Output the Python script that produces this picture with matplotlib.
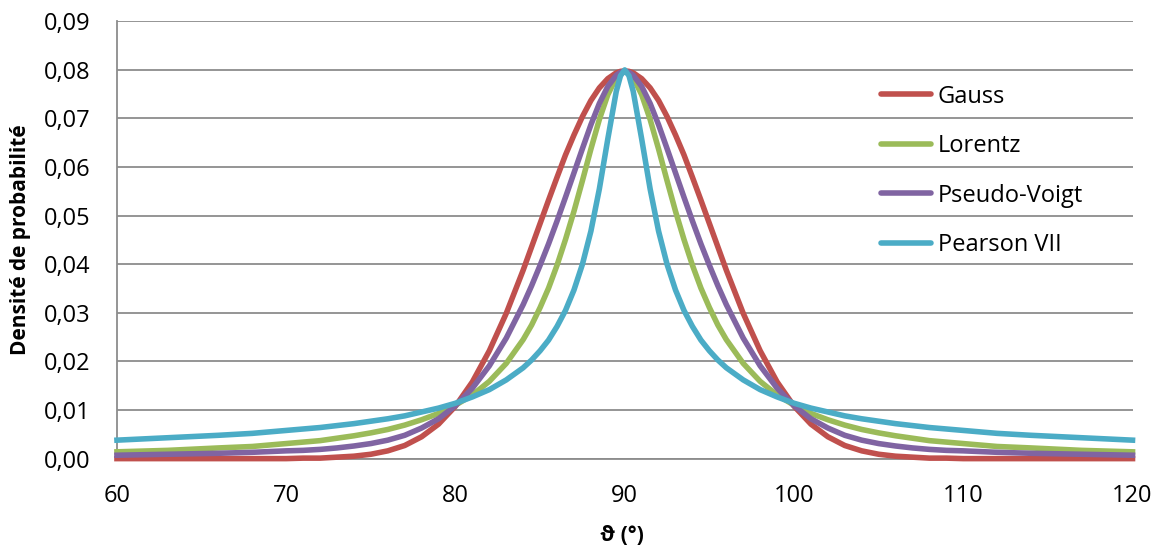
import matplotlib
matplotlib.use('Agg')
import matplotlib.pyplot as plt
from matplotlib.ticker import FuncFormatter, MultipleLocator

# theta positions (deg) and curve values
theta = [60, 63, 66, 68, 70, 71, 72, 73, 74, 75, 76, 77, 78, 79,
         80, 81, 82, 83, 84, 84.5, 85, 85.5, 86, 86.5, 87, 87.5, 88, 88.5,
         89, 89.5, 89.75, 90, 90.25, 90.5, 91, 91.5, 92, 92.5, 93, 93.5,
         94, 94.5, 95, 95.5, 96, 97, 98, 99, 100,
         101, 102, 103, 104, 105, 106, 107, 108, 109, 110, 112, 114, 117, 120]

gauss = [0.0000, 0.0000, 0.0000, 0.0000, 0.0000, 0.0001, 0.0001, 0.0003, 0.0005, 0.0009,
         0.0016, 0.0027, 0.0045, 0.0071,
         0.0108, 0.0158, 0.0222, 0.0299, 0.0388, 0.0436, 0.0484, 0.0532, 0.0579, 0.0625,
         0.0666, 0.0704, 0.0737, 0.0763, 0.0782, 0.0794, 0.0797, 0.0798,
         0.0797, 0.0794, 0.0782, 0.0763, 0.0737, 0.0704, 0.0666, 0.0625, 0.0579, 0.0532,
         0.0484, 0.0436, 0.0388, 0.0299, 0.0222, 0.0158, 0.0108,
         0.0071, 0.0045, 0.0027, 0.0016, 0.0009, 0.0005, 0.0003, 0.0001, 0.0001, 0.0000,
         0.0000, 0.0000, 0.0000, 0.0000]

lorentz = [0.0014, 0.0017, 0.0022, 0.0025, 0.0031, 0.0034, 0.0037, 0.0042, 0.0047, 0.0053,
           0.0060, 0.0069, 0.0080, 0.0093,
           0.0110, 0.0131, 0.0159, 0.0196, 0.0245, 0.0275, 0.0311, 0.0351, 0.0398, 0.0451,
           0.0509, 0.0572, 0.0637, 0.0698, 0.0749, 0.0784, 0.0793, 0.0796,
           0.0793, 0.0784, 0.0749, 0.0698, 0.0637, 0.0572, 0.0509, 0.0451, 0.0398, 0.0351,
           0.0311, 0.0275, 0.0245, 0.0196, 0.0159, 0.0131, 0.0110,
           0.0093, 0.0080, 0.0069, 0.0060, 0.0053, 0.0047, 0.0042, 0.0037, 0.0034, 0.0031,
           0.0025, 0.0022, 0.0017, 0.0014]

pseudo_voigt = [0.0007, 0.0009, 0.0011, 0.0013, 0.0016, 0.0017, 0.0019, 0.0022, 0.0026, 0.0031,
                0.0038, 0.0048, 0.0063, 0.0082,
                0.0109, 0.0145, 0.0191, 0.0248, 0.0317, 0.0356, 0.0398, 0.0442, 0.0489, 0.0538,
                0.0588, 0.0638, 0.0687, 0.0731, 0.0766, 0.0789, 0.0795, 0.0797,
                0.0795, 0.0789, 0.0766, 0.0731, 0.0687, 0.0638, 0.0588, 0.0538, 0.0489, 0.0442,
                0.0398, 0.0356, 0.0317, 0.0248, 0.0191, 0.0145, 0.0109,
                0.0082, 0.0063, 0.0048, 0.0038, 0.0031, 0.0026, 0.0022, 0.0019, 0.0017, 0.0016,
                0.0013, 0.0011, 0.0009, 0.0007]

pearson7 = [0.0038, 0.0043, 0.0048, 0.0052, 0.0058, 0.0061, 0.0064, 0.0068, 0.0072, 0.0077,
            0.0082, 0.0088, 0.0096, 0.0104,
            0.0114, 0.0127, 0.0142, 0.0162, 0.0187, 0.0203, 0.0222, 0.0244, 0.0272, 0.0305,
            0.0347, 0.0400, 0.0468, 0.0555, 0.0658, 0.0756, 0.0788, 0.0800,
            0.0788, 0.0756, 0.0658, 0.0555, 0.0468, 0.0400, 0.0347, 0.0305, 0.0272, 0.0244,
            0.0222, 0.0203, 0.0187, 0.0162, 0.0142, 0.0127, 0.0114,
            0.0104, 0.0096, 0.0088, 0.0082, 0.0077, 0.0072, 0.0068, 0.0064, 0.0061, 0.0058,
            0.0052, 0.0048, 0.0043, 0.0038]

series = [('Gauss', gauss, '#C0504D'),
          ('Lorentz', lorentz, '#9BBB59'),
          ('Pseudo-Voigt', pseudo_voigt, '#8064A2'),
          ('Pearson VII', pearson7, '#4BACC6')]

plt.rcParams['font.family'] = ['Open Sans', 'DejaVu Sans']
plt.rcParams['font.size'] = 17

fig = plt.figure(figsize=(11.58, 5.48), dpi=100)
ax = fig.add_axes([0.101, 0.1631, 0.877, 0.798])

for name, vals, col in series:
    ax.plot(theta, vals, color=col, lw=4, label=name, clip_on=False,
            solid_joinstyle='round', zorder=3)

ax.set_xlim(60, 120)
ax.set_ylim(0, 0.09)
ax.xaxis.set_major_locator(MultipleLocator(10))
ax.yaxis.set_major_locator(MultipleLocator(0.01))
ax.yaxis.set_major_formatter(FuncFormatter(lambda v, p: f'{v:.2f}'.replace('.', ',')))
ax.grid(True, axis='y', color='#8C8C8C', lw=1.3)
ax.set_axisbelow(True)
ax.tick_params(axis='y', length=0, pad=19)
ax.tick_params(axis='x', length=0, pad=18)
for s in ['top', 'right']:
    ax.spines[s].set_visible(False)
for s in ['left', 'bottom']:
    ax.spines[s].set_color('#8C8C8C')
    ax.spines[s].set_linewidth(1.3)

ax.set_ylabel('Densité de probabilité', fontsize=15, fontweight='bold')
ax.set_xlabel('ϑ (°)', fontsize=15, fontweight='bold')
ax.yaxis.set_label_coords(-0.085, 0.5)
ax.xaxis.set_label_coords(0.497, -0.152)

leg = ax.legend(loc='upper left', bbox_to_anchor=(0.752, 0.855), frameon=False,
                borderpad=0, borderaxespad=0, handlelength=2.12,
                handletextpad=0.3, labelspacing=1.08, fontsize=17)
for h in leg.get_lines():
    h.set_linewidth(4)
    h.set_solid_capstyle('round')

fig.savefig('out.png', dpi=100)
